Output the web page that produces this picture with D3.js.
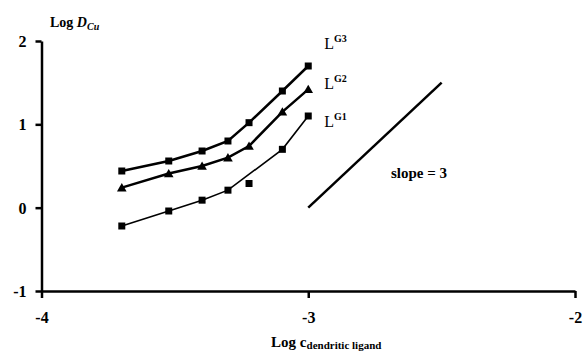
<!DOCTYPE html>
<html><head><meta charset="utf-8">
<script src="https://cdn.jsdelivr.net/npm/d3@7"></script>
<style>body{margin:0;background:#fff}svg{display:block}text{font-family:"Liberation Serif","Times New Roman",serif}</style>
</head><body><svg id="c" width="583" height="354"></svg>
<script>
// log of ligand concentration (2,3,4,5,6,8,10 x 1e-4 M)
const logC = [-3.699, -3.523, -3.398, -3.301, -3.222, -3.097, -3.0];
const g3 = [0.44, 0.56, 0.68, 0.80, 1.02, 1.40, 1.70];
const g2 = [0.24, 0.41, 0.50, 0.60, 0.74, 1.15, 1.42];
const g1 = [-0.22, -0.04, 0.09, 0.21, 0.29, 0.70, 1.10];
// indices of G1 points joined by its trend line (the -3.22 point lies off it)
const g1LineIdx = [0, 1, 2, 3, 5, 6];
const seriesNames = ["G3", "G2", "G1"];
const labelX = [-2.94, -2.94, -2.94];
const labelY = [1.90, 1.43, 0.97];
const slopeLine = [[-3.0, 0.0], [-2.5, 1.5]];
const slopeText = "slope = 3";
const xTicks = [-4, -3, -2];
const yTicks = [-1, 0, 1, 2];

const svg = d3.select("#c");
const x = d3.scaleLinear().domain([-4, -2]).range([41.5, 575]);
const y = d3.scaleLinear().domain([-1, 2]).range([291, 41]);

// axes
const ax = svg.append("g").attr("transform", `translate(0,${y(-1)})`)
  .call(d3.axisBottom(x).tickValues(xTicks).tickSize(7).tickSizeOuter(0).tickFormat(d => String(d)));
const ay = svg.append("g").attr("transform", `translate(${x(-4)},0)`)
  .call(d3.axisLeft(y).tickValues(yTicks).tickSize(6).tickSizeOuter(0).tickFormat(d => String(d)));
[ax, ay].forEach(g => {
  g.select(".domain").attr("stroke", "#000").attr("stroke-width", 2.5);
  g.selectAll(".tick line").attr("stroke", "#000").attr("stroke-width", 2.5);
  g.selectAll(".tick text").attr("fill", "#000").attr("font-size", 16).attr("font-weight", "bold")
    .attr("font-family", "Liberation Serif, serif");
});
ax.selectAll(".tick text").attr("dy", null).attr("y", 32);
ay.selectAll(".tick text").attr("dy", "0.34em").attr("x", -15);

const line = d3.line().x(d => x(d[0])).y(d => y(d[1]));
const data = [g3, g2, g1];
const widths = [2.5, 2.5, 1.6];

// lines
data.forEach((vals, i) => {
  const idx = i === 2 ? g1LineIdx : logC.map((_, k) => k);
  svg.append("path").datum(idx.map(k => [logC[k], vals[k]]))
    .attr("d", line).attr("fill", "none").attr("stroke", "#000").attr("stroke-width", widths[i]);
});
// markers
data.forEach((vals, i) => {
  const sym = i === 1 ? d3.symbol(d3.symbolTriangle, 40) : d3.symbol(d3.symbolSquare, 49);
  svg.append("g").selectAll("path").data(logC.map((c, k) => [c, vals[k]])).join("path")
    .attr("d", sym).attr("fill", "#000")
    .attr("transform", d => `translate(${x(d[0])},${y(d[1]) + (i === 1 ? 1 : 0)})`);
});
// series labels
seriesNames.forEach((n, i) => {
  const t = svg.append("text").attr("x", x(labelX[i])).attr("y", y(labelY[i]))
    .attr("font-size", 16).attr("fill", "#000");
  t.append("tspan").text("L");
  t.append("tspan").attr("dy", -7).attr("font-size", 10).attr("font-weight", "bold").text(n);
});
// slope reference line
svg.append("path").datum(slopeLine).attr("d", line).attr("fill", "none")
  .attr("stroke", "#000").attr("stroke-width", 2.5);
svg.append("text").attr("x", x(-2.69)).attr("y", y(0.356)).attr("font-size", 15)
  .attr("font-weight", "bold").attr("fill", "#000").text(slopeText);

// y title
const yt = svg.append("text").attr("x", 50).attr("y", 27).attr("font-size", 14)
  .attr("font-weight", "bold").attr("fill", "#000");
yt.append("tspan").text("Log ");
yt.append("tspan").attr("font-style", "italic").text("D");
yt.append("tspan").attr("font-style", "italic").attr("font-size", 10).attr("dy", 3).text("Cu");
// x title
const xt = svg.append("text").attr("x", x(-3) + 18).attr("y", 347).attr("text-anchor", "middle")
  .attr("font-size", 15).attr("font-weight", "bold").attr("fill", "#000");
xt.append("tspan").text("Log c");
xt.append("tspan").attr("font-size", 11).attr("dy", 2).text("dendritic ligand");
</script></body></html>
